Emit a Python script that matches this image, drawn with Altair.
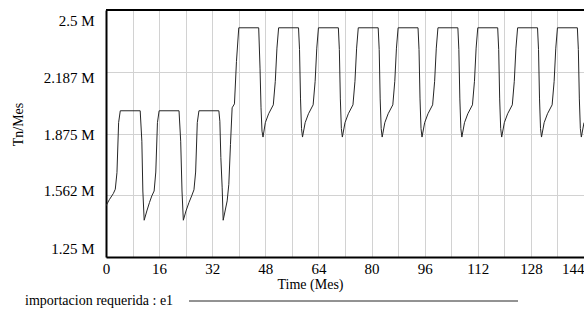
import altair as alt
import pandas as pd

# ---- data (Time in Mes, value in millions of Tn/Mes) ----
TIME_MES = [
    0.0, 1.0, 2.2, 2.8, 3.3, 3.8, 4.3, 10.3, 10.8, 11.1, 11.5,
    12.3, 13.1, 13.8, 14.5, 15.0, 15.5, 16.0, 22.0, 22.5, 22.9, 23.3,
    24.1, 25.0, 25.8, 26.5, 27.0, 27.5, 28.0, 34.0, 34.3, 34.6, 35.0, 35.3,
    36.5, 37.0, 37.5, 38.0, 38.7, 39.3, 40.0, 46.0, 46.4, 46.7, 47.0, 47.3,
    48.0, 49.0, 50.4, 51.0, 51.5, 52.0, 58.0, 58.3, 58.6, 58.9, 59.2,
    60.0, 61.0, 62.4, 63.0, 63.5, 64.0, 70.0, 70.3, 70.6, 70.9, 71.2,
    72.0, 73.0, 74.4, 75.0, 75.5, 76.0, 82.0, 82.3, 82.6, 82.9, 83.2,
    84.0, 85.0, 86.4, 87.0, 87.5, 88.0, 94.0, 94.3, 94.6, 94.9, 95.2,
    96.0, 97.0, 98.4, 99.0, 99.5, 100.0, 106.0, 106.3, 106.6, 106.9, 107.2,
    108.0, 109.0, 110.4, 111.0, 111.5, 112.0, 118.0, 118.3, 118.6, 118.9, 119.2,
    120.0, 121.0, 122.4, 123.0, 123.5, 124.0, 130.0, 130.3, 130.6, 130.9, 131.2,
    132.0, 133.0, 134.4, 135.0, 135.5, 136.0, 142.0, 142.3, 142.6, 142.9, 143.2,
    144.0,
]
IMPORTACION_M = [
    1.509, 1.540, 1.571, 1.593, 1.677, 1.930, 1.990, 1.990, 1.836, 1.584, 1.436,
    1.483, 1.526, 1.559, 1.584, 1.680, 1.930, 1.990, 1.990, 1.836, 1.584, 1.436,
    1.483, 1.526, 1.559, 1.590, 1.680, 1.930, 1.990, 1.990, 1.937, 1.753, 1.600, 1.436,
    1.534, 1.618, 1.820, 2.005, 2.025, 2.240, 2.410, 2.410, 2.206, 2.005, 1.887, 1.857,
    1.930, 1.975, 2.020, 2.139, 2.307, 2.410, 2.410, 2.300, 2.050, 1.900, 1.857,
    1.930, 1.975, 2.020, 2.139, 2.307, 2.410, 2.410, 2.300, 2.050, 1.900, 1.857,
    1.930, 1.975, 2.020, 2.139, 2.307, 2.410, 2.410, 2.300, 2.050, 1.900, 1.857,
    1.930, 1.975, 2.020, 2.139, 2.307, 2.410, 2.410, 2.300, 2.050, 1.900, 1.857,
    1.930, 1.975, 2.020, 2.139, 2.307, 2.410, 2.410, 2.300, 2.050, 1.900, 1.857,
    1.930, 1.975, 2.020, 2.139, 2.307, 2.410, 2.410, 2.300, 2.050, 1.900, 1.857,
    1.930, 1.975, 2.020, 2.139, 2.307, 2.410, 2.410, 2.300, 2.050, 1.900, 1.857,
    1.930, 1.975, 2.020, 2.139, 2.307, 2.410, 2.410, 2.300, 2.050, 1.900, 1.857,
    1.930,
]
SERIES_NAME = "importacion requerida : e1"

X_DOMAIN = [0, 144]
X_GRID = [0, 8, 16, 24, 32, 40, 48, 56, 64, 72, 80, 88, 96, 104, 112, 120, 128, 136, 144]
Y_TICKS = [1.25, 1.5625, 1.875, 2.1875, 2.5]
Y_TICK_LABELS = ["1.25 M", "1.562 M", "1.875 M", "2.187 M", "2.5 M"]

FONT = "Liberation Serif"

df = pd.DataFrame({"t": TIME_MES, "v": IMPORTACION_M, "serie": SERIES_NAME})
top_df = pd.DataFrame({"top": [Y_TICKS[-1]]})

# y label text
y_label_expr = "''"
for val, lab in zip(Y_TICKS, Y_TICK_LABELS):
    y_label_expr = f"datum.value == {val} ? '{lab}' : ({y_label_expr})"

# vertical nudges of y labels (Vensim keeps them inside the frame)
y_shift = {1.25: -8.7, 1.5625: -4.5, 1.875: 1.0, 2.1875: 5.3, 2.5: 10.7}
y_label_offset = {
    "condition": [{"test": f"datum.value == {k}", "value": s} for k, s in y_shift.items()],
    "value": 0,
}

x_axis = alt.Axis(
    values=X_GRID,
    labelExpr="datum.value % 16 == 0 ? datum.label : ''",
    labelAlign={"condition": {"test": f"datum.value == {X_DOMAIN[1]}", "value": "right"}, "value": "center"},
    labelPadding=4,
    labelFont=FONT,
    labelFontSize=15,
    title="Time (Mes)",
    titleFont=FONT,
    titleX=204,
    titleY=20,
    titleAlign="center",
    titleBaseline="top",
)
y_axis = alt.Axis(
    values=Y_TICKS,
    labelExpr=y_label_expr,
    labelOffset=y_label_offset,
    labelPadding=12,
    labelFont=FONT,
    labelFontSize=15,
    title="Tn/Mes",
    titleFont=FONT,
    titleAngle=270,
    titleX=-88,
    titleY=114,
    titleAlign="center",
    titleBaseline="middle",
)

line = alt.Chart(df).mark_line(strokeWidth=1, clip=True).encode(
    x=alt.X("t:Q", scale=alt.Scale(domain=X_DOMAIN, nice=False, zero=False), axis=x_axis),
    y=alt.Y("v:Q", scale=alt.Scale(domain=[Y_TICKS[0], Y_TICKS[-1]], nice=False, zero=False), axis=y_axis),
    color=alt.Color(
        "serie:N",
        scale=alt.Scale(range=["#262626"]),
        legend=alt.Legend(
            orient="none",
            legendX=-100,
            legendY=284,
            title=None,
            padding=0,
            symbolType="M 44 0 L 126.25 0",
            symbolSize=64,
            symbolStrokeWidth=1,
            labelFont=FONT,
            labelFontSize=14,
            labelColor="black",
            labelOffset=5,
        ),
    ),
)

top_border = alt.Chart(top_df).mark_rule(color="black", strokeWidth=2).encode(
    y=alt.datum(Y_TICKS[-1])
)

chart = (
    alt.layer(line, top_border)
    .properties(
        width=478,
        height=247,
        autosize=alt.AutoSizeParams(type="none"),
        padding={"left": 106, "top": 10, "right": 0, "bottom": 65},
    )
    .configure(font=FONT, background="white")
    .configure_view(stroke=None)
    .configure_axis(
        domainColor="black",
        domainWidth=2,
        grid=True,
        gridColor="#d2d2d2",
        gridWidth=1,
        ticks=False,
        tickSize=0,
        labelFont=FONT,
        labelFontSize=15,
        labelColor="black",
        titleFont=FONT,
        titleFontSize=14,
        titleFontWeight="normal",
        titleColor="black",
    )
    .configure_legend(labelFont=FONT)
)

chart.save("out.html", embed_options={"renderer": "svg", "actions": False})
